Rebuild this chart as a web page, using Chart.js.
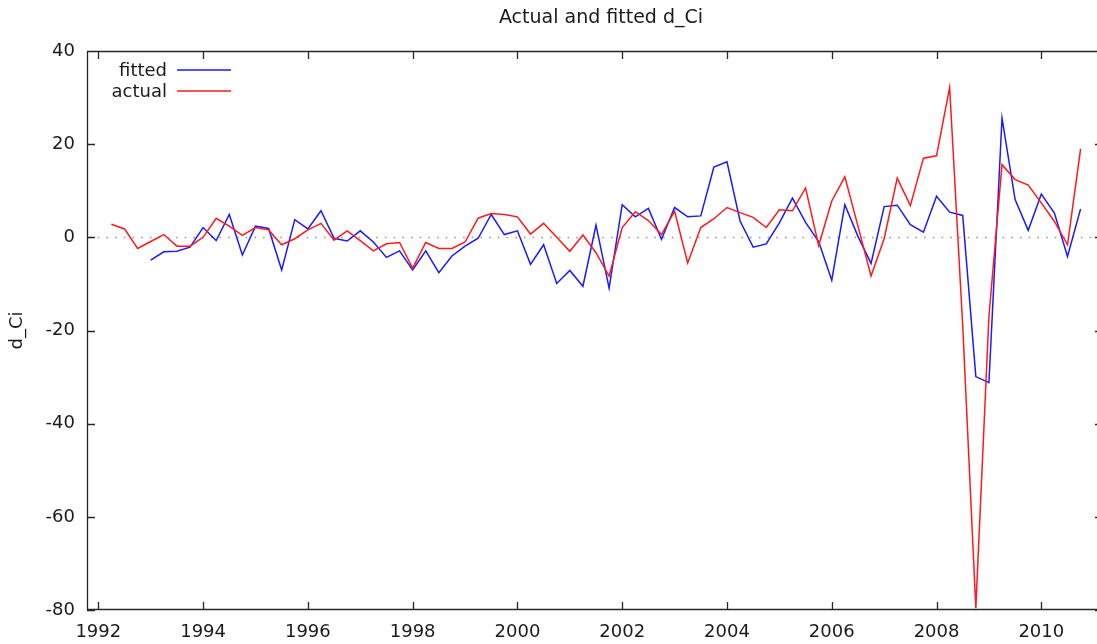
<!DOCTYPE html>
<html>
<head>
<meta charset="utf-8">
<title>Actual and fitted d_Ci</title>
<script src="https://cdn.jsdelivr.net/npm/chart.js@4.4.1/dist/chart.umd.min.js"></script>
<style>
    html, body { margin: 0; padding: 0; background: #ffffff; overflow: hidden; }
    canvas { display: block; }
</style>
</head>
<body>
<canvas id="myChart" width="1097" height="644"></canvas>
<script>
//Actual and fitted d_Ci, quarterly observations (gretl style plot)

//Observation labels, year:quarter
var obs = [
    "1992:2", "1992:3", "1992:4",
    "1993:1", "1993:2", "1993:3", "1993:4",
    "1994:1", "1994:2", "1994:3", "1994:4",
    "1995:1", "1995:2", "1995:3", "1995:4",
    "1996:1", "1996:2", "1996:3", "1996:4",
    "1997:1", "1997:2", "1997:3", "1997:4",
    "1998:1", "1998:2", "1998:3", "1998:4",
    "1999:1", "1999:2", "1999:3", "1999:4",
    "2000:1", "2000:2", "2000:3", "2000:4",
    "2001:1", "2001:2", "2001:3", "2001:4",
    "2002:1", "2002:2", "2002:3", "2002:4",
    "2003:1", "2003:2", "2003:3", "2003:4",
    "2004:1", "2004:2", "2004:3", "2004:4",
    "2005:1", "2005:2", "2005:3", "2005:4",
    "2006:1", "2006:2", "2006:3", "2006:4",
    "2007:1", "2007:2", "2007:3", "2007:4",
    "2008:1", "2008:2", "2008:3", "2008:4",
    "2009:1", "2009:2", "2009:3", "2009:4",
    "2010:1", "2010:2", "2010:3", "2010:4"
];

//Actual values of d_Ci
var actual = [
    2.8, 1.8, -2.4,
    -0.9, 0.6, -1.9, -1.9,
    0.0, 4.1, 2.4, 0.4,
    2.1, 1.6, -1.6, -0.3,
    1.6, 3.0, -0.6, 1.4,
    -0.7, -2.9, -1.4, -1.1,
    -6.6, -1.1, -2.4, -2.4,
    -1.0, 4.1, 5.1, 4.9,
    4.4, 0.7, 3.0, 0.0,
    -3.0, 0.5, -3.3, -8.3,
    2.1, 5.5, 3.6, 0.6,
    5.6, -5.5, 2.1, 4.0,
    6.4, 5.3, 4.3, 2.1,
    5.9, 5.7, 10.6, -1.8,
    7.8, 13.0, 2.4, -8.3,
    -0.3, 12.7, 6.8, 17.0,
    17.5, 32.2, -19.0, -79.6,
    -17.0, 15.6, 12.4, 11.2,
    7.4, 3.4, -1.6, 19.0
];

//Fitted values (model starts in 1993:1)
var fitted = [
    null, null, null,
    -4.9, -3.1, -3.0, -2.1,
    2.1, -0.7, 4.9, -3.8,
    2.4, 1.9, -7.0, 3.8,
    1.8, 5.7, -0.2, -0.8,
    1.4, -1.0, -4.3, -2.9,
    -7.0, -2.9, -7.6, -4.0,
    -1.9, -0.2, 4.9, 0.6,
    1.4, -5.8, -1.6, -9.9,
    -7.1, -10.5, 2.6, -10.9,
    7.0, 4.4, 6.2, -0.4,
    6.4, 4.4, 4.6, 15.1,
    16.2, 3.5, -2.1, -1.4,
    3.1, 8.4, 3.2, -0.9,
    -9.2, 7.0, 0.2, -5.6,
    6.6, 6.9, 2.7, 1.1,
    8.8, 5.4, 4.7, -29.9,
    -31.2, 25.6, 8.1, 1.5,
    9.3, 5.2, -4.1, 6.1
];

//Tick labels
var xTickVals = [1992, 1994, 1996, 1998, 2000, 2002, 2004, 2006, 2008, 2010];
var yTickVals = [-80, -60, -40, -20, 0, 20, 40];

var titleText = "Actual and fitted d_Ci";
var yTitle = "d_Ci";

var fontFamily = '"DejaVu Sans", "Liberation Sans", sans-serif';
var textColor = "#1a1a1a";

//Turn "1992:2" into 1992.25 so the linear axis can place it
function obsToTime(label) {
    var parts = label.split(":");
    return Number(parts[0]) + (Number(parts[1]) - 1) / 4;
}

function toPoints(values) {
    return obs.map(function (o, i) {
        return { x: obsToTime(o), y: values[i] };
    });
}

//Frame, inward ticks, dotted zero line, key and title, gnuplot style
var gnuplotFrame = {
    id: "gnuplotFrame",
    beforeDatasetsDraw: function (chart) {
        var ctx = chart.ctx;
        var a = chart.chartArea;
        var xs = chart.scales.x;
        var ys = chart.scales.y;
        ctx.save();

        //dotted zero axis
        var y0 = Math.round(ys.getPixelForValue(0)) + 0.5;
        ctx.strokeStyle = "#9a9a9a";
        ctx.lineWidth = 1.6;
        ctx.setLineDash([1.6, 7.1]);
        ctx.beginPath();
        ctx.moveTo(a.left + 2, y0);
        ctx.lineTo(a.right, y0);
        ctx.stroke();
        ctx.setLineDash([]);

        //border lines
        ctx.strokeStyle = "#262626";
        ctx.lineWidth = 1.3;
        ctx.beginPath();
        ctx.moveTo(a.right, a.top + 0.5);
        ctx.lineTo(a.left + 0.5, a.top + 0.5);
        ctx.lineTo(a.left + 0.5, a.bottom - 0.5);
        ctx.lineTo(a.right, a.bottom - 0.5);

        //ticks pointing inward
        xTickVals.forEach(function (v) {
            var px = Math.round(xs.getPixelForValue(v)) + 0.5;
            ctx.moveTo(px, a.bottom);
            ctx.lineTo(px, a.bottom - 8);
            ctx.moveTo(px, a.top);
            ctx.lineTo(px, a.top + 8);
        });
        yTickVals.forEach(function (v) {
            var py = Math.round(ys.getPixelForValue(v)) + 0.5;
            ctx.moveTo(a.left, py);
            ctx.lineTo(a.left + 8, py);
            ctx.moveTo(a.right - 2, py);
            ctx.lineTo(a.right, py);
        });
        ctx.stroke();
        ctx.restore();
    },
    afterDraw: function (chart) {
        var ctx = chart.ctx;
        ctx.save();
        ctx.fillStyle = textColor;

        //title
        ctx.font = "19px " + fontFamily;
        ctx.textAlign = "center";
        ctx.textBaseline = "middle";
        ctx.fillText(titleText, 601, 18);

        //key, fitted first then actual
        ctx.font = "18px " + fontFamily;
        var keyOrder = [1, 0];
        keyOrder.forEach(function (idx, row) {
            var ds = chart.data.datasets[idx];
            var ky = 70 + row * 21;
            ctx.textAlign = "right";
            ctx.fillStyle = textColor;
            ctx.fillText(ds.label, 167, ky + 1);
            ctx.strokeStyle = ds.borderColor;
            ctx.lineWidth = 1.5;
            ctx.beginPath();
            ctx.moveTo(177, ky);
            ctx.lineTo(231, ky);
            ctx.stroke();
        });
        ctx.restore();
    }
};

var infoChart = new Chart("myChart", {
    type: "line",
    data: {
        datasets: [{
            label: "actual",
            data: toPoints(actual),
            borderColor: "#ff1a1a",
            borderWidth: 1.5,
            pointRadius: 0,
            tension: 0,
            fill: false
        }, {
            label: "fitted",
            data: toPoints(fitted),
            borderColor: "#1a1aff",
            borderWidth: 1.5,
            pointRadius: 0,
            tension: 0,
            fill: false
        }]
    },
    options: {
        responsive: false,
        devicePixelRatio: 1,
        animation: false,
        events: [],
        layout: { padding: { top: 51, left: 0, right: 0, bottom: 0 } },
        plugins: {
            legend: { display: false },
            title: { display: false },
            tooltip: { enabled: false }
        },
        scales: {
            x: {
                type: "linear",
                min: 1991.784,
                max: 2011.063,
                afterFit: function (scale) { scale.height = 34; },
                afterBuildTicks: function (scale) {
                    scale.ticks = xTickVals.map(function (v) { return { value: v }; });
                },
                grid: { display: false, drawTicks: false },
                border: { display: false },
                ticks: {
                    padding: 12,
                    maxRotation: 0,
                    autoSkip: false,
                    color: textColor,
                    font: { family: fontFamily, size: 18 },
                    callback: function (v) { return String(v); }
                }
            },
            y: {
                type: "linear",
                min: -80,
                max: 40,
                afterFit: function (scale) { scale.width = 87; },
                afterBuildTicks: function (scale) {
                    scale.ticks = yTickVals.map(function (v) { return { value: v }; });
                },
                grid: { display: false, drawTicks: false },
                border: { display: false },
                title: {
                    display: true,
                    text: yTitle,
                    color: textColor,
                    font: { family: fontFamily, size: 18 },
                    padding: { top: 7, bottom: 0 }
                },
                ticks: {
                    padding: 12,
                    color: textColor,
                    font: { family: fontFamily, size: 18 },
                    callback: function (v) { return String(v); }
                }
            }
        }
    },
    plugins: [gnuplotFrame]
});
</script>
</body>
</html>
